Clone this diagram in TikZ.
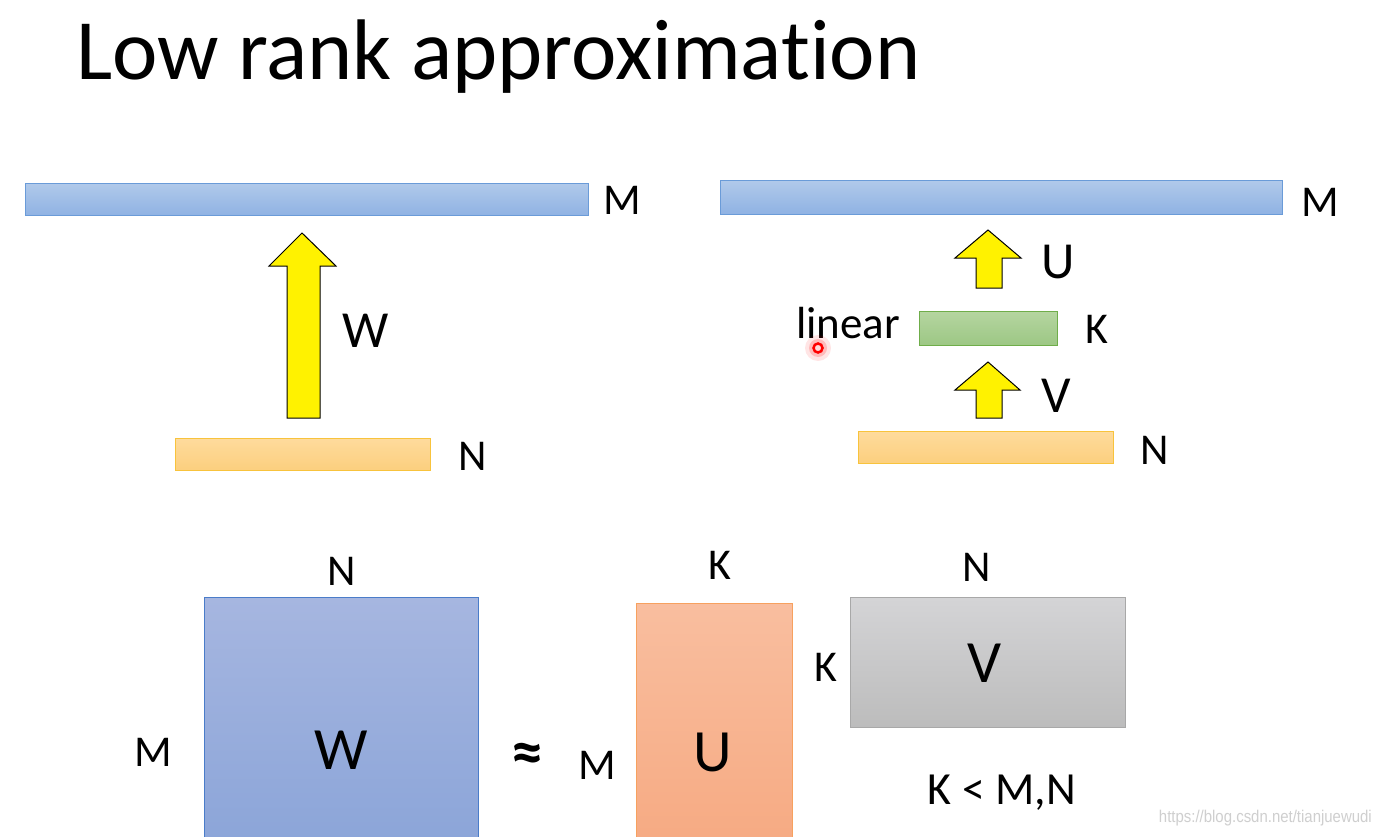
\documentclass[tikz,border=0pt]{standalone}
\usepackage{fontspec}
\setmainfont{Carlito}[Ligatures=NoCommon]
\newfontfamily\wmfont{Liberation Sans}
\definecolor{bbtop}{HTML}{B0C9EA}
\definecolor{bbbot}{HTML}{8FB2E3}
\definecolor{bbedge}{HTML}{6A9BD8}
\definecolor{obtop}{HTML}{FEDB9C}
\definecolor{obbot}{HTML}{FCCF7E}
\definecolor{obedge}{HTML}{F8C33C}
\definecolor{gbtop}{HTML}{B5D5A0}
\definecolor{gbbot}{HTML}{9CC784}
\definecolor{gbedge}{HTML}{6FAD4A}
\definecolor{wtop}{HTML}{A6B6E0}
\definecolor{wbot}{HTML}{8AA4D8}
\definecolor{wedge}{HTML}{4A7CC9}
\definecolor{utop}{HTML}{F9BE9F}
\definecolor{ubot}{HTML}{F6A981}
\definecolor{uedge}{HTML}{F7A15F}
\definecolor{vtop}{HTML}{D4D4D6}
\definecolor{vbot}{HTML}{BCBCBC}
\definecolor{vedge}{HTML}{A8A8A8}
\definecolor{arrowyellow}{HTML}{FFF200}
\definecolor{wmgray}{HTML}{CFCFCF}
\begin{document}
\begin{tikzpicture}[x=1pt,y=-1pt,
  box/.style={inner sep=0pt, anchor=north west, line width=1.2pt},
  bluebar/.style={box, draw=bbedge, top color=bbtop, bottom color=bbbot},
  orangebar/.style={box, draw=obedge, top color=obtop, bottom color=obbot},
  greenbar/.style={box, draw=gbedge, top color=gbtop, bottom color=gbbot},
  wbox/.style={box, draw=wedge, top color=wtop, bottom color=wbot},
  ubox/.style={box, draw=uedge, top color=utop, bottom color=ubot},
  vbox/.style={box, draw=vedge, top color=vtop, bottom color=vbot},
  blockarrow/.style={draw=black, line width=1pt, fill=arrowyellow, line join=miter},
  lbl/.style={inner sep=0pt, font=\fontsize{44}{44}\selectfont},
  biglbl/.style={inner sep=0pt, font=\fontsize{52}{52}\selectfont},
  boxlbl/.style={inner sep=0pt, font=\fontsize{60}{60}\selectfont}]
\useasboundingbox (0,0) rectangle (1380,837);
\fill[white] (0,0) rectangle (1380,837);

% title
\node[inner sep=0pt, anchor=base west, font=\fontsize{86}{86}\selectfont] (title) at (76,80) {Low rank approximation};

% ---- top left
\node[bluebar, minimum width=563pt, minimum height=32pt] (topM) at (25,183) {};
\node[lbl] (topMl) at (622,200) {M};
\draw[blockarrow] (287,418) -- (287,266) -- (269,266) -- (302,233) -- (336,266) -- (320,266) -- (320,418) -- cycle;
\node[biglbl] (Wl) at (366,331) {W};
\node[orangebar, minimum width=255pt, minimum height=32pt] (botN) at (175,438) {};
\node[lbl] (botNl) at (473,456) {N};

% ---- top right
\node[bluebar, minimum width=562pt, minimum height=34pt] (rM) at (720,180) {};
\node[lbl] (rMl) at (1320,202) {M};
\draw[blockarrow] (976,288) -- (976,258) -- (955,258) -- (988,230) -- (1021,258) -- (1002,258) -- (1002,288) -- cycle;
\node[biglbl] (Ul) at (1058,262) {U};
\node[inner sep=0pt, anchor=base west, font=\fontsize{45}{45}\selectfont] (lin) at (796,338) {linear};
\node[greenbar, minimum width=138pt, minimum height=34pt] (rK) at (919,311) {};
\node[lbl] (rKl) at (1097,329) {K};
\draw[blockarrow] (976,418) -- (976,390) -- (955,390) -- (988,362) -- (1020,390) -- (1002,390) -- (1002,418) -- cycle;
\node[biglbl] (Vl) at (1056,396) {V};
\node[orangebar, minimum width=255pt, minimum height=32pt] (rN) at (858,431) {};
\node[lbl] (rNl) at (1155,450) {N};

% laser pointer dot
\fill[red, opacity=0.10] (818,348) circle (13pt);
\fill[red, opacity=0.18] (818,348) circle (9pt);
\draw[red, line width=2.5pt, fill=red!15] (818,348) circle (4.5pt);

% ---- bottom matrices
\node[wbox, minimum width=274pt, minimum height=260pt] (Wb) at (204,597) {};
\node[boxlbl] at (341,750) {W};
\node[lbl] (WN) at (342,571) {N};
\node[lbl] (WM) at (153,752) {M};
\node[inner sep=0pt, font=\fontsize{64}{64}\selectfont\bfseries] (approx) at (527,758) {≈};
\node[lbl] (UM) at (597,765) {M};
\node[ubox, minimum width=156pt, minimum height=254pt] (Ub) at (636,603) {};
\node[boxlbl] at (713,752) {U};
\node[lbl] (UK) at (720,565) {K};
\node[vbox, minimum width=275pt, minimum height=130pt] (Vb) at (850,597) {};
\node[boxlbl] at (985,663) {V};
\node[lbl] (VK) at (826,667) {K};
\node[lbl] (VN) at (977,567) {N};
\node[inner sep=0pt, font=\fontsize{46}{46}\selectfont] (cond) at (1002,793) {K < M,N};

% watermark
\node[inner sep=0pt, anchor=east, text=wmgray, font=\wmfont\fontsize{17}{17}\selectfont, xscale=0.88] (wm) at (1372,818) {https://blog.csdn.net/tianjuewudi};
\end{tikzpicture}
\end{document}
